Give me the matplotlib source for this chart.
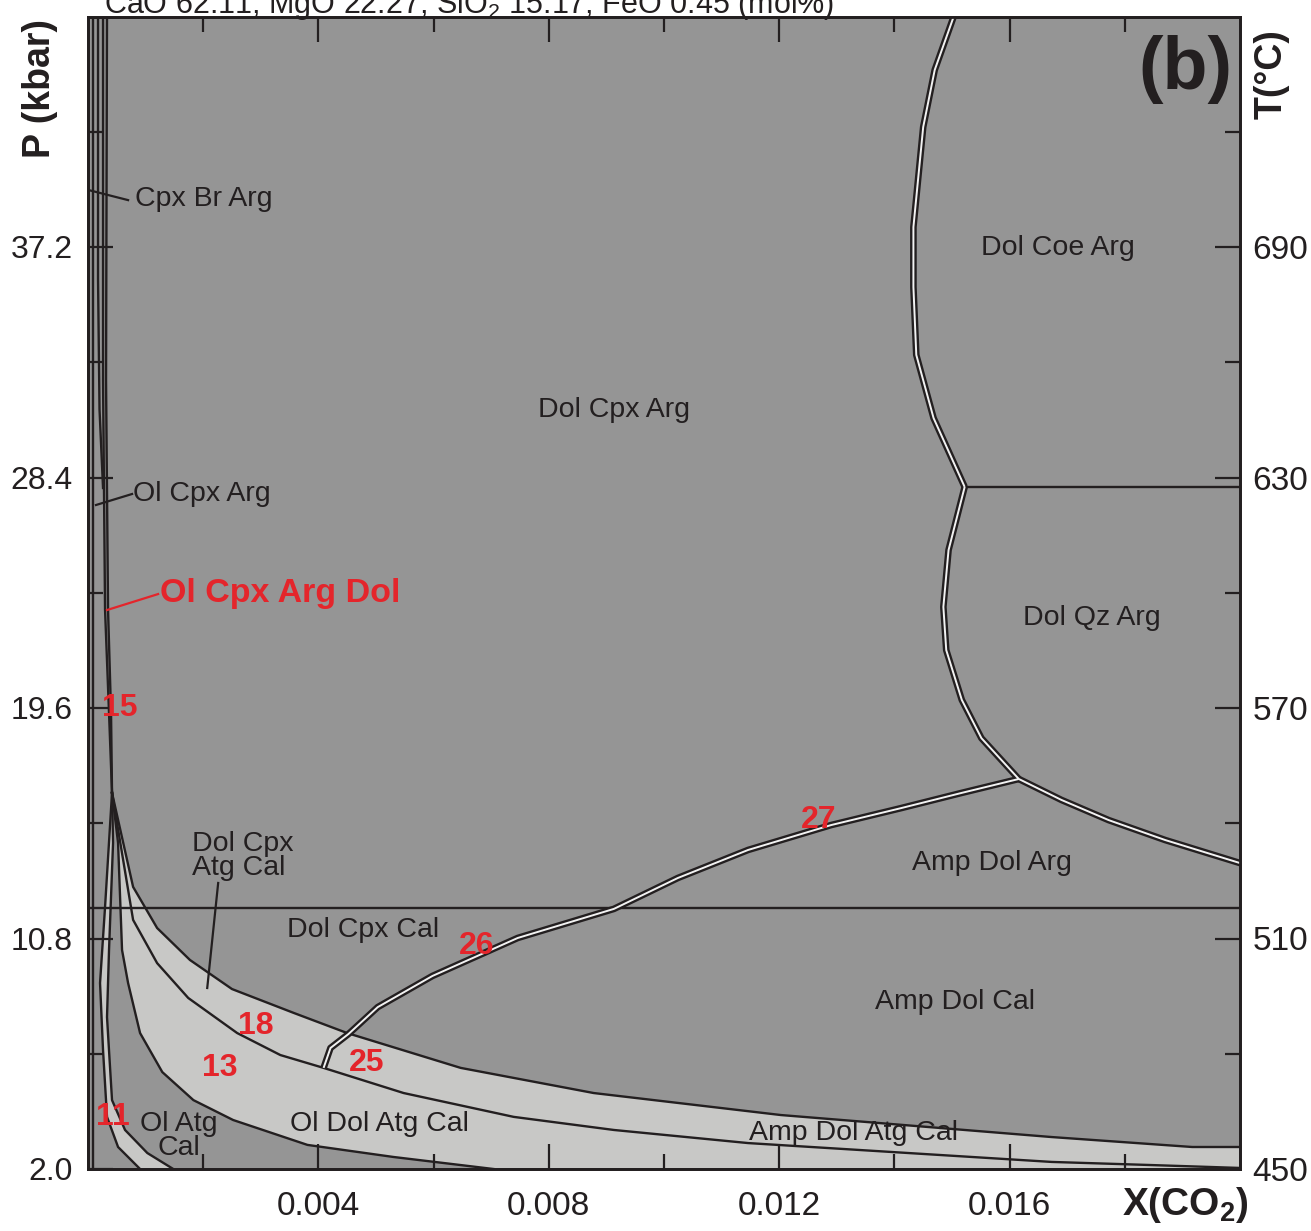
import numpy as np
import matplotlib
matplotlib.use("Agg")
import matplotlib.pyplot as plt
from matplotlib.ticker import FixedLocator

plt.rcParams['font.family'] = ['Liberation Sans', 'DejaVu Sans']
plt.rcParams['mathtext.fontset'] = 'custom'
plt.rcParams['mathtext.rm'] = 'Liberation Sans'
plt.rcParams['mathtext.it'] = 'Liberation Sans'
plt.rcParams['mathtext.bf'] = 'Liberation Sans:bold'

# ---------------- data (X(CO2), P kbar) ----------------
x_range = [0.0, 0.02]
p_range = [2.0, 46.0]
t_range = [450, 750]

p_major = [2.0, 10.8, 19.6, 28.4, 37.2]
p_minor = [6.4, 15.2, 24.0, 32.8, 41.6]
t_major = [450, 510, 570, 630, 690]
t_minor = [480, 540, 600, 660, 720]
x_major = [0.004, 0.008, 0.012, 0.016]
x_minor = [0.002, 0.006, 0.010, 0.014, 0.018]

# double (white-cored) lines
big_upper_x = [0.01503, 0.01470, 0.01450, 0.01433, 0.01433, 0.01438, 0.01468, 0.01522]
big_upper_p = [46.0, 43.96, 41.78, 37.96, 35.67, 33.08, 30.67, 28.04]
big_lower_x = [0.01522, 0.01494, 0.01485, 0.01490, 0.01517, 0.01551, 0.01616]
big_lower_p = [28.04, 25.63, 23.46, 21.81, 19.91, 18.45, 16.89]
right_branch_x = [0.01616, 0.01690, 0.01772, 0.01870, 0.02]
right_branch_p = [16.89, 16.09, 15.32, 14.56, 13.68]
amp_x = [0.01616, 0.01517, 0.01412, 0.01290, 0.01146, 0.01024, 0.00913,
         0.00746, 0.00598, 0.00503, 0.00452, 0.00421, 0.00409]
amp_p = [16.89, 16.36, 15.78, 15.13, 14.18, 13.11, 11.93,
         10.82, 9.37, 8.18, 7.15, 6.62, 5.86]

# single lines
cal_arg_p = 11.96
coe_qz_p = 28.04
coe_qz_x = [0.01522, 0.02]

curve_a_x = [0.000417, 0.000783, 0.00120, 0.00177, 0.00250, 0.00357, 0.00450,
             0.00647, 0.00878, 0.01203, 0.01673, 0.01917, 0.02]
curve_a_p = [16.36, 12.77, 11.20, 9.98, 8.87, 7.96, 7.19,
             5.86, 4.90, 4.06, 3.22, 2.84, 2.84]
curve_b_x = [0.000417, 0.000783, 0.00120, 0.00174, 0.00259, 0.00334, 0.00409,
             0.00548, 0.00739, 0.00913, 0.01146, 0.01673, 0.01847, 0.02]
curve_b_p = [16.36, 11.51, 9.86, 8.53, 7.19, 6.35, 5.86,
             4.90, 3.99, 3.49, 2.99, 2.27, 2.15, 2.04]
curve_c_x = [0.000417, 0.000522, 0.000591, 0.000696, 0.000904, 0.00129,
             0.00183, 0.00252, 0.00381, 0.00530, 0.00704]
curve_c_p = [16.36, 14.45, 10.36, 9.10, 7.19, 5.70, 4.63, 3.87, 2.92, 2.46, 2.0]
curve_d_x = [0.000417, 0.000296, 0.000209, 0.000261, 0.000330, 0.000522, 0.000904]
curve_d_p = [16.36, 12.00, 9.10, 6.54, 3.99, 2.84, 2.0]
curve_e_x = [0.000417, 0.000435, 0.000365, 0.000330, 0.000417, 0.000643, 0.00103, 0.00148]
curve_e_p = [16.36, 14.45, 10.36, 7.80, 4.63, 3.49, 2.61, 2.0]

line_a_x = [0.000087, 0.000087]
line_a_p = [46.0, 2.0]
line_b_x = [0.000174, 0.000174, 0.000200, 0.000261]
line_b_p = [46.0, 36.0, 31.0, 28.0]
line_c_x = [0.000261, 0.000261, 0.000296, 0.000365, 0.000417]
line_c_p = [46.0, 32.12, 23.34, 19.41, 16.36]
line_d_x = [0.000330, 0.000313, 0.000348, 0.000400, 0.000417]
line_d_p = [46.0, 32.12, 23.34, 19.41, 16.36]

# leaders
lead_cpxbr = ([0.0, 0.000696], [39.38, 38.99])
lead_olcpx = ([0.000139, 0.000765], [27.35, 27.77])
lead_red = ([0.000330, 0.001217], [23.34, 23.95])
lead_atg = ([0.00226, 0.00207], [12.92, 8.91])

# labels: (text, x, p, ha)
black_labels = [
    ("Cpx Br Arg", 0.000817, 39.03, 'left'),
    ("Ol Cpx Arg", 0.000783, 27.77, 'left'),
    ("Dol Cpx Arg", 0.00913, 30.98, 'center'),
    ("Dol Coe Arg", 0.01683, 37.16, 'center'),
    ("Dol Qz Arg", 0.01743, 23.04, 'center'),
    ("Amp Dol Arg", 0.01569, 13.68, 'center'),
    ("Dol Cpx\nAtg Cal", 0.00181, 13.95, 'left'),
    ("Dol Cpx Cal", 0.00478, 11.12, 'center'),
    ("Amp Dol Cal", 0.01506, 8.38, 'center'),
    ("Ol Atg\nCal", 0.00157, 3.26, 'center'),
    ("Ol Dol Atg Cal", 0.00506, 3.72, 'center'),
    ("Amp Dol Atg Cal", 0.01329, 3.37, 'center'),
]
red_numbers = [
    ("15", 0.000557, 19.60), ("27", 0.01268, 15.32), ("26", 0.00675, 10.51),
    ("18", 0.00292, 7.46), ("13", 0.00228, 5.86), ("25", 0.00483, 6.05),
    ("11", 0.000435, 3.99),
]
red_label = ("Ol Cpx Arg Dol", 0.001252, 23.99)

DARK = '#959595'
LIGHT = '#c8c8c6'
INK = '#231f20'
RED = '#e4252b'

W, H = 1311, 1231
fig = plt.figure(figsize=(W / 100, H / 100), dpi=100)
ax = fig.add_axes([88 / W, (H - 1169) / H, 1152 / W, 1152.5 / H])
ax.set_xlim(*x_range)
ax.set_ylim(*p_range)
ax.set_facecolor(DARK)

# light fields
poly_x = np.concatenate([curve_a_x, [x_range[1], x_range[1]], curve_c_x[::-1]])
poly_p = np.concatenate([curve_a_p, [p_range[0], p_range[0]], curve_c_p[::-1]])
ax.fill(poly_x, poly_p, color=LIGHT, lw=0, zorder=1)
strip_x = np.concatenate([curve_d_x, curve_e_x[::-1]])
strip_p = np.concatenate([curve_d_p, curve_e_p[::-1]])
ax.fill(strip_x, strip_p, color=LIGHT, lw=0, zorder=1)

# single lines
lw1 = 1.7
ax.plot(x_range, [cal_arg_p, cal_arg_p], color=INK, lw=lw1, zorder=2)
ax.plot(coe_qz_x, [coe_qz_p, coe_qz_p], color=INK, lw=lw1, zorder=2)
for cx, cp in [(curve_a_x, curve_a_p), (curve_b_x, curve_b_p), (curve_c_x, curve_c_p),
               (curve_d_x, curve_d_p), (curve_e_x, curve_e_p),
               (line_a_x, line_a_p), (line_b_x, line_b_p),
               (line_c_x, line_c_p), (line_d_x, line_d_p)]:
    ax.plot(cx, cp, color=INK, lw=lw1, zorder=2, solid_joinstyle='miter')

# double lines
for cx, cp in [(big_upper_x, big_upper_p), (big_lower_x, big_lower_p),
               (right_branch_x, right_branch_p), (amp_x, amp_p)]:
    ax.plot(cx, cp, color=INK, lw=4.8, zorder=3, solid_capstyle='butt')
    ax.plot(cx, cp, color='#f2f2f2', lw=1.4, zorder=4, solid_capstyle='butt')

# leaders
for lx, lp in [lead_cpxbr, lead_olcpx, lead_atg]:
    ax.plot(lx, lp, color=INK, lw=1.6, zorder=5)
ax.plot(*lead_red, color=RED, lw=1.6, zorder=5)

# labels
for txt, x, p, ha in black_labels:
    ax.text(x, p, txt, ha=ha, va='center', fontsize=20.5, color=INK,
            linespacing=0.92, multialignment='center' if ha == 'center' else 'left',
            zorder=6)
for txt, x, p in red_numbers:
    ax.text(x, p, txt, ha='center', va='center', fontsize=23, color=RED,
            fontweight='bold', zorder=7)
ax.text(red_label[1], red_label[2], red_label[0], ha='left', va='center',
        fontsize=24.5, color=RED, fontweight='bold', zorder=7)

ax.text(1185 / W, 1 - 70 / H, "(b)", transform=fig.transFigure, ha='center',
        va='center', fontsize=53, fontweight='bold', color=INK)

# ticks
ax.xaxis.set_major_locator(FixedLocator(x_major))
ax.xaxis.set_minor_locator(FixedLocator(x_minor))
ax.set_xticklabels([f"{v:.3f}" for v in x_major])
ax.yaxis.set_major_locator(FixedLocator(p_major))
ax.yaxis.set_minor_locator(FixedLocator(p_minor))
ax.set_yticklabels([f"{v:.1f}" for v in p_major])
ax.tick_params(which='both', direction='in', top=True, right=False, width=1.6,
               color=INK, labelcolor=INK)
ax.tick_params(which='major', length=18)
ax.tick_params(which='minor', length=11)
ax.tick_params(axis='x', which='major', labelsize=24, pad=16)
ax.tick_params(axis='y', which='major', labelsize=23, pad=11)

ax2 = ax.twinx()
ax2.set_ylim(*t_range)
ax2.yaxis.set_major_locator(FixedLocator(t_major))
ax2.yaxis.set_minor_locator(FixedLocator(t_minor))
ax2.tick_params(which='both', direction='in', width=1.6, color=INK, labelcolor=INK)
ax2.tick_params(which='major', length=18, labelsize=24, pad=9)
ax2.tick_params(which='minor', length=11)

for a in (ax, ax2):
    for s in a.spines.values():
        s.set_linewidth(2.0)
        s.set_color(INK)

fig.text(40 / W, 1 - 88 / H, "P (kbar)", rotation=90, ha='center', va='center',
         fontsize=27, fontweight='bold', color=INK)
fig.text(1272 / W, 1 - 74 / H, "T(°C)", rotation=90, ha='center', va='center',
         fontsize=27, fontweight='bold', color=INK)
fig.text(1185 / W, 1 - 1205 / H, r"X(CO$_\mathbf{2}$)", ha='center', va='center',
         fontsize=28, fontweight='bold', color=INK)
fig.text(469 / W, 1 - 13 / H, r"CaO 62.11, MgO 22.27, SiO$_2$ 15.17, FeO 0.45 (mol%)",
         ha='center', va='baseline', fontsize=22, color=INK)

fig.savefig("out.png", dpi=100, facecolor='white')
